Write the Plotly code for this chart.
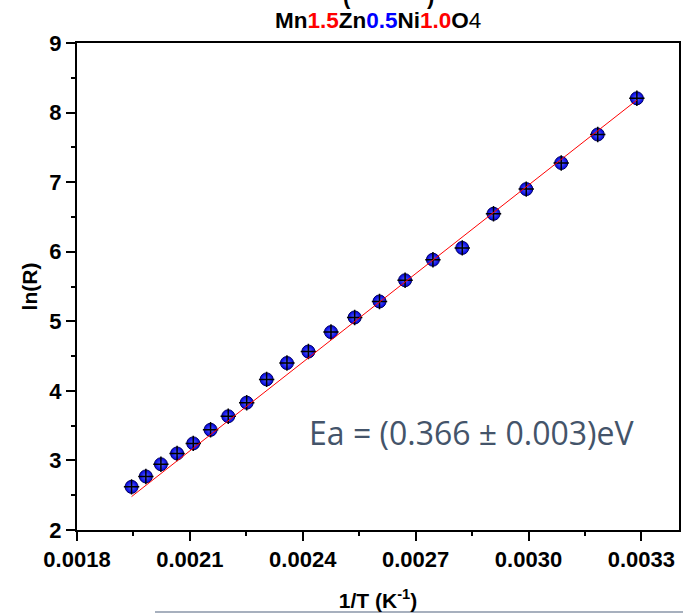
import plotly.graph_objects as go

# Data
inv_T = [0.001945, 0.001983, 0.002023, 0.002066, 0.002109, 0.002155, 0.002202,
         0.002251, 0.002304, 0.002358, 0.002415, 0.002475, 0.002538, 0.002604,
         0.002672, 0.002746, 0.002824, 0.002907, 0.002994, 0.003087, 0.003184,
         0.003288]
ln_R = [2.62, 2.77, 2.945, 3.10, 3.245, 3.44, 3.635, 3.83, 4.165, 4.40, 4.565,
        4.845, 5.055, 5.285, 5.59, 5.885, 6.055, 6.545, 6.90, 7.275, 7.685, 8.205]
fit_x = [0.001945, 0.003288]
fit_y = [2.48, 8.18]

x_ticks = [0.0018, 0.0021, 0.0024, 0.0027, 0.0030, 0.0033]
y_ticks = [2, 3, 4, 5, 6, 7, 8, 9]

FONT = "Liberation Sans"

fig = go.Figure()
fig.add_trace(go.Scatter(
    x=inv_T, y=ln_R, mode="markers",
    marker=dict(size=13, color="#0000e0", symbol="circle",
                line=dict(color="#000060", width=1),
                gradient=dict(type="radial", color="#5a68ff")),
    showlegend=False, hoverinfo="skip"))
fig.add_trace(go.Scatter(
    x=inv_T, y=ln_R, mode="markers",
    marker=dict(size=11, symbol="cross-thin", color="black",
                line=dict(color="black", width=1.5)),
    showlegend=False, hoverinfo="skip"))
fig.add_trace(go.Scatter(
    x=fit_x, y=fit_y, mode="lines",
    line=dict(color="#ff0000", width=1),
    showlegend=False, hoverinfo="skip"))

axis_common = dict(
    showline=True, linecolor="black", linewidth=2, mirror=True,
    ticks="outside", ticklen=9, tickwidth=2, tickcolor="black",
    showgrid=False, zeroline=False, automargin=False,
    tickfont=dict(family=FONT, size=22, color="black", weight="bold"),
)

fig.update_xaxes(
    range=[0.0018, 0.0034], tickvals=x_ticks,
    ticktext=[f"<b>{v:.4f}</b>" for v in x_ticks],
    minor=dict(dtick=0.00015, ticklen=4, tickwidth=2, tickcolor="black", ticks="outside"),
    title=dict(text="<b>1/T (K<sup>-1</sup>)</b>", font=dict(family=FONT, size=21, color="black"),
               standoff=22),
    **axis_common)
fig.update_yaxes(
    range=[2, 9], tickvals=y_ticks,
    ticktext=[f"<b>{v}</b>" for v in y_ticks],
    minor=dict(dtick=0.5, ticklen=4, tickwidth=2, tickcolor="black", ticks="outside"),
    title=dict(text="<b>ln(R)</b>", font=dict(family=FONT, size=21, color="black"),
               standoff=6),
    **axis_common)

title_text = ("<b>Mn<span style='color:#ff0000'>1.5</span>Zn"
              "<span style='color:#0000ff'>0.5</span>Ni"
              "<span style='color:#ff0000'>1.0</span>O</b>4")

fig.update_layout(
    width=683, height=616,
    margin=dict(l=77, r=4, t=43, b=86),
    plot_bgcolor="white", paper_bgcolor="white",
    annotations=[
        dict(text=title_text, xref="paper", yref="paper", x=(378 - 77) / 602, y=1.0,
             xanchor="center", yanchor="bottom", yshift=8, showarrow=False,
             font=dict(family=FONT, size=22.5, color="black")),
        dict(text="<b>(</b>", xref="paper", yref="paper", x=(347 - 77) / 602, y=1.0,
             xanchor="center", yanchor="bottom", yshift=32, showarrow=False,
             font=dict(family=FONT, size=22, color="black")),
        dict(text="<b>)</b>", xref="paper", yref="paper", x=(430 - 77) / 602, y=1.0,
             xanchor="center", yanchor="bottom", yshift=32, showarrow=False,
             font=dict(family=FONT, size=22, color="black")),
        dict(text="Ea = (0.366 ± 0.003)eV", xref="paper", yref="paper",
             x=(471 - 77) / 602, y=(530 - 432) / 487, xanchor="center", yanchor="middle",
             showarrow=False, font=dict(family="Open Sans", size=32,
                                        color="#44546A")),
    ],
    shapes=[dict(type="line", xref="paper", yref="paper",
                 x0=(155 - 77) / 602, x1=(690 - 77) / 602,
                 y0=(530 - 612) / 487, y1=(530 - 612) / 487,
                 line=dict(color="#8a96a8", width=1.5))],
)

fig.write_html("out.html", config={"displayModeBar": False},
               post_script="document.body.style.margin='0px';")
